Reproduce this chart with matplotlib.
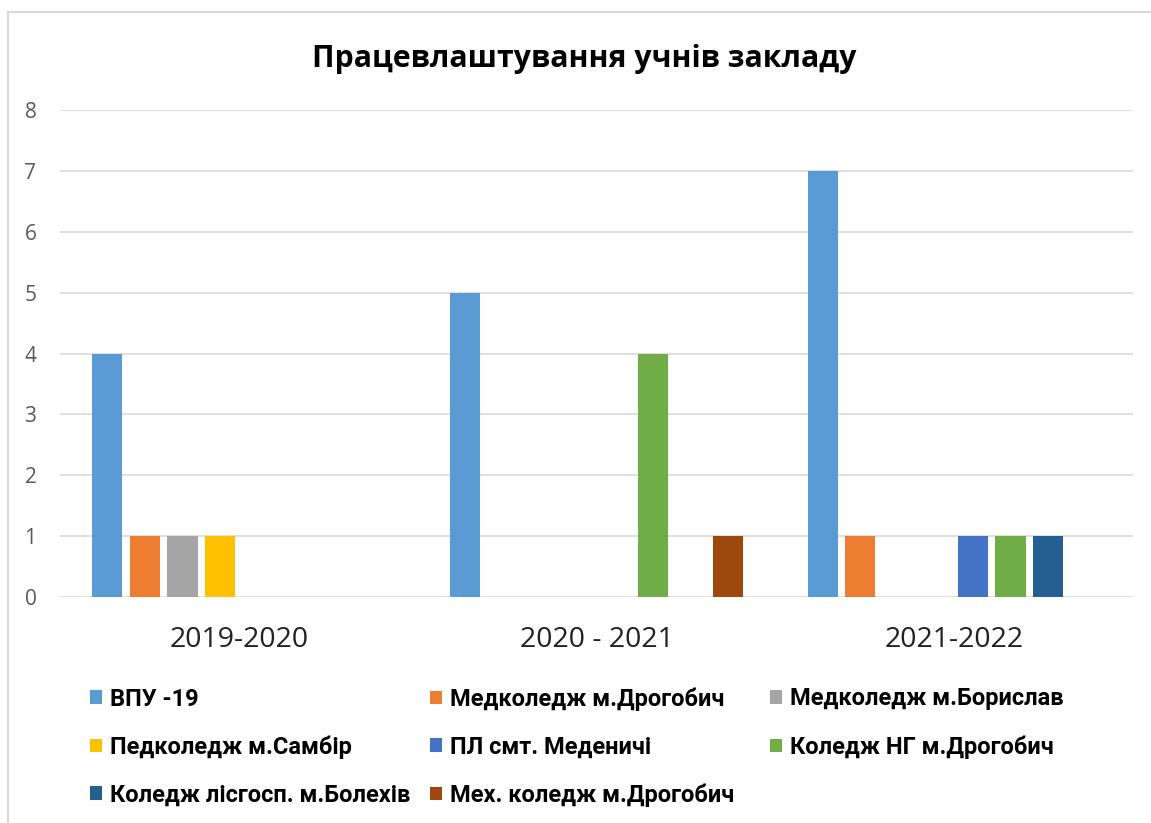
import numpy as np
import matplotlib.pyplot as plt
from matplotlib.lines import Line2D

categories = ['2019-2020', '2020 - 2021', '2021-2022']
series_names = ['ВПУ -19', 'Медколедж м.Дрогобич', 'Медколедж м.Борислав',
                'Педколедж м.Самбір', 'ПЛ смт. Меденичі', 'Коледж НГ м.Дрогобич',
                'Коледж лісгосп. м.Болехів', 'Мех. коледж м.Дрогобич']
vpu = [4, 5, 7]
med_drohobych = [1, 0, 1]
med_boryslav = [1, 0, 0]
ped_sambir = [1, 0, 0]
pl_medenychi = [0, 0, 1]
ng_drohobych = [0, 4, 1]
lisgosp_bolekhiv = [0, 0, 1]
mekh_drohobych = [0, 1, 0]
yticks = [0, 1, 2, 3, 4, 5, 6, 7, 8]

all_values = [vpu, med_drohobych, med_boryslav, ped_sambir,
              pl_medenychi, ng_drohobych, lisgosp_bolekhiv, mekh_drohobych]
colors = ['#5B9BD5', '#ED7D31', '#A5A5A5', '#FFC000',
          '#4472C4', '#70AD47', '#255E91', '#9E480E']

W, H = 1151, 823
fig = plt.figure(figsize=(W / 100, H / 100), dpi=100)
ax = fig.add_axes([60 / W, 1 - 597 / H, 1073 / W, 487 / H])

x = np.arange(len(categories))
step = 0.105
width = 0.084
handles = []
for i, (name, vals) in enumerate(zip(series_names, all_values)):
    b = ax.bar(x + (i - 3.5) * step, vals, width, color=colors[i], label=name, zorder=3)
    handles.append(b)

ax.set_xlim(-0.5, 2.5)
ax.set_ylim(0, 8)
ax.set_yticks(yticks)
ax.grid(axis='y', color='#D9D9D9', linewidth=1.2, zorder=0)
for s in ax.spines.values():
    s.set_visible(False)
ax.tick_params(axis='y', length=0, pad=17, labelsize=15, labelcolor='#595959')
ax.tick_params(axis='x', length=0, pad=21, labelsize=20.5, labelcolor='#222222')
ax.set_xticks(x)
ax.set_xticklabels(categories)
for lab in ax.get_yticklabels() + ax.get_xticklabels():
    lab.set_fontfamily(['Open Sans', 'DejaVu Sans'])

fig.text(0.508, 1 - 59 / H, 'Працевлаштування учнів закладу', ha='center', va='center',
         fontsize=21.8, fontweight='bold', family=['Open Sans', 'DejaVu Sans'])

# legend laid out row by row like the original, 3 columns
col_x = [90, 430, 770]
row_y = [699, 747, 795]
for i, name in enumerate(series_names):
    r, c = divmod(i, 3)
    leg = fig.legend([handles[i]], [name], loc='center left',
                     bbox_to_anchor=(col_x[c] / W, 1 - row_y[r] / H),
                     frameon=False, borderpad=0, borderaxespad=0,
                     handlelength=0.5, handleheight=0.5, handletextpad=0.35,
                     prop={'family': ['Roboto', 'DejaVu Sans'],
                           'weight': 'bold', 'size': 17})

# thin border of the chart area
fig.add_artist(Line2D([8 / W, 1], [1 - 12 / H] * 2, color='#D9D9D9', lw=1.5))
fig.add_artist(Line2D([8 / W] * 2, [0, 1 - 12 / H], color='#D9D9D9', lw=1.5))

fig.savefig('out.png', dpi=100, facecolor='white')
